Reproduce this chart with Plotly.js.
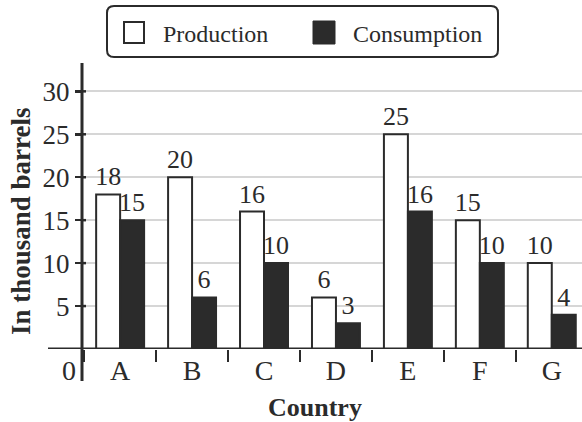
<!DOCTYPE html>
<html><head><meta charset="utf-8">
<script src="https://cdn.plot.ly/plotly-3.0.1.min.js"></script>
<style>body{margin:0;background:#fff}</style></head>
<body><div id="chart" style="width:582px;height:422px"></div>
<script>
const countries = ['A','B','C','D','E','F','G'];
const production = [18,20,16,6,25,15,10];
const consumption = [15,6,10,3,16,10,4];
const seriesNames = ['Production','Consumption'];
const yTicks = [5,10,15,20,25,30];

const W=582,H=422,L=82,R=0,T=63,B=73;
const pw=W-L-R, ph=H-T-B;
const px = x => (x-L)/pw;
const py = y => (H-B-y)/ph;
const ink='#2b2b2b';
const serif='Liberation Serif';

function roundRect(x0,y0,x1,y1,r){
  const rx=r/pw, ry=r/ph;
  const a=px(x0), b=px(x1), top=py(y0), bot=py(y1);
  return `M${a+rx},${top} L${b-rx},${top} Q${b},${top} ${b},${top-ry} L${b},${bot+ry} Q${b},${bot} ${b-rx},${bot} L${a+rx},${bot} Q${a},${bot} ${a},${bot+ry} L${a},${top-ry} Q${a},${top} ${a+rx},${top} Z`;
}

const traces = [
  {type:'bar', name:seriesNames[0], x:countries, y:production,
   text:production.map(String), textposition:'outside', cliponaxis:false, constraintext:'none',
   marker:{color:'#ffffff', line:{color:ink,width:2}},
   textfont:{family:serif,size:26,color:ink}, showlegend:false, hoverinfo:'skip'},
  {type:'bar', name:seriesNames[1], x:countries, y:consumption,
   text:consumption.map(String), textposition:'outside', cliponaxis:false, constraintext:'none',
   marker:{color:ink, line:{color:ink,width:2}},
   textfont:{family:serif,size:26,color:ink}, showlegend:false, hoverinfo:'skip'}
];

const shapes = [
  {type:'line', xref:'paper', yref:'paper', x0:0, x1:0, y0:py(381), y1:1, line:{color:ink,width:3}, layer:'above'},
  {type:'line', xref:'paper', yref:'y', x0:px(48), x1:1, y0:0, y1:0, line:{color:ink,width:3}, layer:'above'},
  {type:'path', xref:'paper', yref:'paper', path:roundRect(107,6,498,57,7), line:{color:ink,width:2}, fillcolor:'rgba(0,0,0,0)'},
  {type:'rect', xref:'paper', yref:'paper', x0:px(124), x1:px(144), y0:py(43), y1:py(22), line:{color:ink,width:2}, fillcolor:'#ffffff'},
  {type:'rect', xref:'paper', yref:'paper', x0:px(313), x1:px(335), y0:py(44), y1:py(21), line:{color:ink,width:1}, fillcolor:ink}
];
yTicks.forEach(v => shapes.push({type:'line', xref:'paper', yref:'y', x0:0, x1:px(86), y0:v, y1:v, line:{color:ink,width:2.5}, layer:'above'}));

const annotations = [
  {text:'0', xref:'paper', yref:'paper', x:px(69), y:py(370), xanchor:'center', yanchor:'middle', showarrow:false, font:{family:serif,size:28,color:ink}},
  {text:'<b>In thousand barrels</b>', xref:'paper', yref:'paper', x:px(21), y:py(221), textangle:-90, xanchor:'center', yanchor:'middle', showarrow:false, font:{family:serif,size:27,color:ink}},
  {text:'<b>Country</b>', xref:'paper', yref:'paper', x:px(315), y:py(407), xanchor:'center', yanchor:'middle', showarrow:false, font:{family:serif,size:26,color:ink}},
  {text:seriesNames[0], xref:'paper', yref:'paper', x:px(161), y:py(34), xanchor:'left', yanchor:'middle', showarrow:false, font:{family:serif,size:24,color:ink}},
  {text:seriesNames[1], xref:'paper', yref:'paper', x:px(351), y:py(34), xanchor:'left', yanchor:'middle', showarrow:false, font:{family:serif,size:24,color:ink}}
];

const layout = {
  width:W, height:H, margin:{l:L,r:R,t:T,b:B},
  paper_bgcolor:'#fff', plot_bgcolor:'#fff',
  barmode:'group', bargap:1/3, bargroupgap:0,
  showlegend:false,
  font:{family:serif,color:ink},
  xaxis:{type:'category', range:[-0.53,6.42], showline:false, zeroline:false, showgrid:false,
    tickson:'boundaries', ticks:'outside', ticklen:12, tickwidth:2.5, tickcolor:ink,
    ticklabelstandoff:2,
    tickfont:{family:serif,size:28,color:ink}, fixedrange:true},
  yaxis:{range:[0,33.3], tickvals:yTicks, ticktext:yTicks.map(String), showline:false, zeroline:false,
    showgrid:true, gridcolor:'#d6d6d6', gridwidth:2,
    ticks:'outside', ticklen:6, tickwidth:2.5, tickcolor:ink,
    tickfont:{family:serif,size:27,color:ink}, fixedrange:true},
  shapes:shapes, annotations:annotations
};

Plotly.newPlot('chart', traces, layout, {displayModeBar:false, staticPlot:true});
</script></body></html>
